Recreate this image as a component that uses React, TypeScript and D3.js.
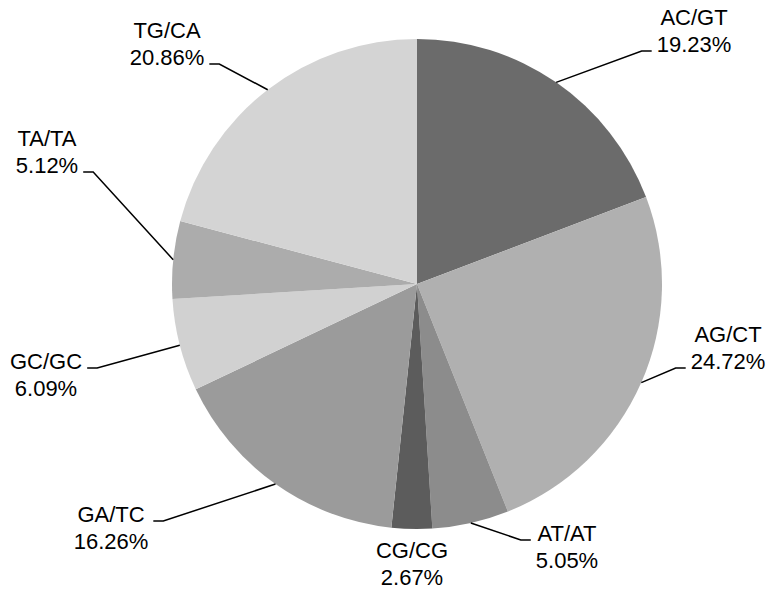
import React, { useEffect, useRef } from 'react'
import * as d3 from 'd3'

const categories = ['AC/GT', 'AG/CT', 'AT/AT', 'CG/CG', 'GA/TC', 'GC/GC', 'TA/TA', 'TG/CA']
const percents = [19.23, 24.72, 5.05, 2.67, 16.26, 6.09, 5.12, 20.86]
const sliceColors = ['#6b6b6b', '#b0b0b0', '#8c8c8c', '#5c5c5c', '#9b9b9b', '#d1d1d1', '#acacac', '#d4d4d4']

// label placement: centre x, centre y of first line, whether a leader line is drawn
const labelLayout = [
    { x: 694, y: 17, leader: true },
    { x: 728, y: 334, leader: true },
    { x: 567, y: 533, leader: true },
    { x: 412, y: 550, leader: false },
    { x: 111, y: 514, leader: true },
    { x: 46, y: 361, leader: true },
    { x: 47, y: 138, leader: true },
    { x: 167, y: 30, leader: true },
]

const W = 775
const H = 592
const cx = 417
const cy = 284
const R = 245
const lineGap = 27
const fontSize = 22

function drawPie(node: SVGSVGElement) {
    const svg = d3.select(node)
    svg.selectAll('*').remove()

    const pie = d3.pie<number>().sort(null).value(d => d)
    const arcs = pie(percents)
    const arc = d3.arc<d3.PieArcDatum<number>>().innerRadius(0).outerRadius(R)

    const g = svg.append('g').attr('transform', `translate(${cx},${cy})`)
    g.selectAll('path')
        .data(arcs)
        .enter()
        .append('path')
        .attr('d', arc)
        .attr('fill', (d, i) => sliceColors[i])

    arcs.forEach((d, i) => {
        const lay = labelLayout[i]
        const t = svg.append('text')
            .attr('text-anchor', 'middle')
            .attr('font-family', '"Liberation Sans", Arial, sans-serif')
            .attr('font-size', fontSize)
            .attr('fill', '#000')
        t.append('tspan').attr('x', lay.x).attr('y', lay.y + 8).text(categories[i])
        t.append('tspan').attr('x', lay.x).attr('y', lay.y + 8 + lineGap).text(percents[i].toFixed(2) + '%')

        if (!lay.leader) return
        const bb = (t.node() as SVGTextElement).getBBox()
        const mid = (d.startAngle + d.endAngle) / 2
        const px = cx + R * Math.sin(mid)
        const py = cy - R * Math.cos(mid)
        const right = lay.x > cx
        const attachY = lay.y < py ? lay.y + lineGap + 7 : lay.y + 7
        const edge = right ? bb.x - 5 : bb.x + bb.width + 5
        const elbow = right ? edge - 10 : edge + 10
        svg.append('path')
            .attr('d', `M${px},${py}L${elbow},${attachY}L${edge},${attachY}`)
            .attr('fill', 'none')
            .attr('stroke', '#000')
            .attr('stroke-width', 1.5)
    })
}

export default function App() {
    const ref = useRef<SVGSVGElement>(null)

    useEffect(() => {
        if (ref.current) drawPie(ref.current)
    }, [])

    return (
        <svg
            ref={ref}
            width={W}
            height={H}
            style={{ position: 'absolute', left: 0, top: 0, background: '#fff' }}
        />
    )
}
